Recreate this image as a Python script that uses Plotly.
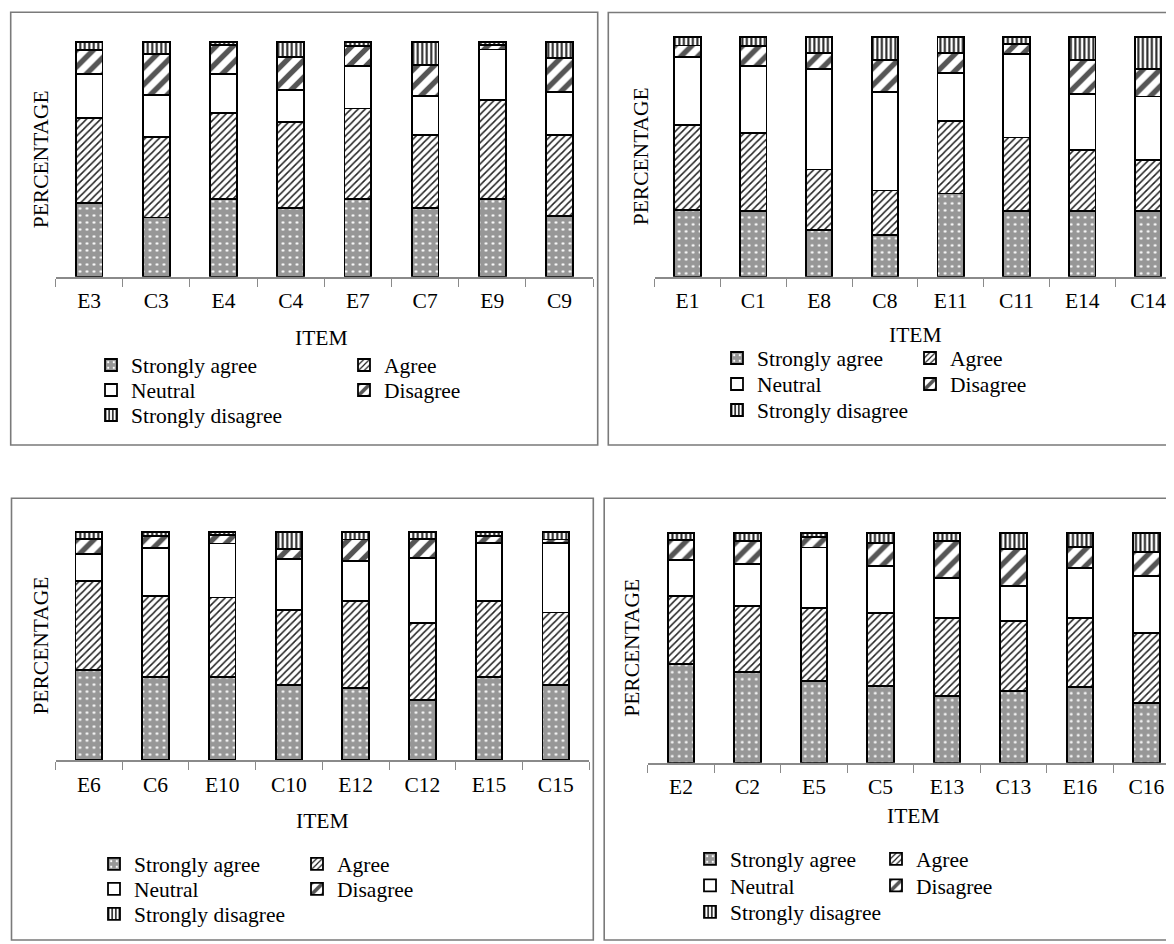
import plotly.graph_objects as go

W, H = 1174, 944
OFF = 8  # default page body margin of the written html

series_names = ["Strongly agree", "Agree", "Neutral", "Disagree", "Strongly disagree"]

# Panel 1 (top-left)
p1_items = ["E3", "C3", "E4", "C4", "E7", "C7", "E9", "C9"]
p1_strongly_agree = [31.2, 25.2, 33.0, 29.4, 33.0, 29.1, 33.0, 25.8]
p1_agree = [36.2, 34.3, 36.5, 36.6, 38.6, 31.2, 42.1, 34.5]
p1_neutral = [18.9, 17.7, 16.7, 13.5, 18.2, 16.6, 21.6, 18.2]
p1_disagree = [10.2, 17.7, 12.3, 13.9, 8.4, 13.2, 1.8, 14.5]
p1_strongly_disagree = [3.5, 5.1, 1.5, 6.6, 1.8, 9.9, 1.5, 7.0]

# Panel 2 (top-right)
p2_items = ["E1", "C1", "E8", "C8", "E11", "C11", "E14", "C14"]
p2_strongly_agree = [27.8, 27.4, 19.4, 17.4, 34.7, 27.4, 27.5, 27.4]
p2_agree = [35.4, 32.6, 25.3, 18.5, 30.1, 30.6, 25.3, 21.3]
p2_neutral = [28.2, 27.9, 41.8, 41.0, 20.1, 34.9, 23.2, 26.4]
p2_disagree = [4.9, 8.2, 6.8, 13.5, 8.3, 4.0, 14.3, 11.5]
p2_strongly_disagree = [3.7, 3.9, 6.7, 9.6, 6.8, 3.1, 9.7, 13.4]

# Panel 3 (bottom-left)
p3_items = ["E6", "C6", "E10", "C10", "E12", "C12", "E15", "C15"]
p3_strongly_agree = [39.4, 36.5, 36.2, 32.8, 31.4, 26.3, 36.2, 32.8]
p3_agree = [39.0, 35.3, 35.0, 32.8, 38.4, 33.6, 33.6, 31.8]
p3_neutral = [11.7, 21.2, 23.6, 22.6, 17.4, 28.5, 25.4, 30.5]
p3_disagree = [6.6, 5.1, 3.7, 4.1, 9.4, 8.3, 3.0, 1.5]
p3_strongly_disagree = [3.3, 1.9, 1.5, 7.7, 3.4, 3.3, 1.8, 3.4]

# Panel 4 (bottom-right)
p4_items = ["E2", "C2", "E5", "C5", "E13", "C13", "E16", "C16"]
p4_strongly_agree = [42.9, 39.7, 35.6, 33.6, 29.2, 31.4, 33.1, 25.9]
p4_agree = [29.8, 28.6, 32.0, 31.5, 34.0, 30.4, 30.1, 30.5]
p4_neutral = [15.7, 18.3, 26.2, 20.6, 17.4, 15.3, 21.8, 25.1]
p4_disagree = [8.7, 10.0, 4.5, 10.2, 16.0, 16.0, 9.2, 10.2]
p4_strongly_disagree = [2.9, 3.4, 1.7, 4.1, 3.4, 6.9, 5.8, 8.3]

panels_data = [
    (p1_items, [p1_strongly_agree, p1_agree, p1_neutral, p1_disagree, p1_strongly_disagree]),
    (p2_items, [p2_strongly_agree, p2_agree, p2_neutral, p2_disagree, p2_strongly_disagree]),
    (p3_items, [p3_strongly_agree, p3_agree, p3_neutral, p3_disagree, p3_strongly_disagree]),
    (p4_items, [p4_strongly_agree, p4_agree, p4_neutral, p4_disagree, p4_strongly_disagree]),
]

FONT = "Liberation Serif, Times New Roman, serif"
FS = 21.5

# layout geometry in page pixels
geo = [
    dict(x0=55.5, cw=67.2, base=276.7, top=41.7,
         box=(10.7, 12.3, 597.7, 445), right=True,
         ytitle=(40.8, 159.5), xtitle=(321, 337.5),
         leg_x=91, leg_w=208, leg_rows=(365, 390, 415)),
    dict(x0=654.6, cw=65.8, base=276.7, top=36.7,
         box=(608.3, 12.5, 1200, 445), right=False,
         ytitle=(640.8, 156.5), xtitle=(915, 335.5),
         leg_x=717, leg_w=148, leg_rows=(358, 384, 410)),
    dict(x0=55.5, cw=66.7, base=760.0, top=531.7,
         box=(11.5, 498.3, 593.3, 940), right=True,
         ytitle=(40.8, 645.8), xtitle=(322, 820.5),
         leg_x=94, leg_w=158, leg_rows=(864, 889, 914)),
    dict(x0=647.7, cw=66.5, base=762.7, top=533.3,
         box=(604.2, 498.3, 1200, 940), right=False,
         ytitle=(631.3, 647.5), xtitle=(913, 815.5),
         leg_x=690, leg_w=141, leg_rows=(859, 885.5, 912)),
]

styles = [
    dict(color="#9e9e9e", line=dict(color="black", width=1.8),
         pattern=dict(shape=".", bgcolor="#979797", fgcolor="white", size=7, solidity=0.12, fillmode="replace")),
    dict(color="white", line=dict(color="black", width=1.8),
         pattern=dict(shape="/", bgcolor="white", fgcolor="#222222", size=5, solidity=0.3, fillmode="replace")),
    dict(color="white", line=dict(color="black", width=1.8)),
    dict(color="white", line=dict(color="black", width=1.8),
         pattern=dict(shape="/", bgcolor="white", fgcolor="#555555", size=12, solidity=0.45, fillmode="replace")),
    dict(color="white", line=dict(color="black", width=1.8),
         pattern=dict(shape="|", bgcolor="white", fgcolor="#222222", size=4.5, solidity=0.45, fillmode="replace")),
]
row_of_series = [0, 0, 1, 1, 2]

VIEW_W = W


def fx(x):
    return (x - OFF) / W


def fy(y):
    return 1 - (y - OFF) / H


fig = go.Figure()
layout = dict(
    width=W, height=H, margin=dict(l=0, r=0, t=0, b=0),
    paper_bgcolor="white", plot_bgcolor="white",
    barmode="stack", bargap=0.6,
    font=dict(family=FONT, size=FS, color="black"),
    showlegend=True,
)
shapes = []
annotations = []

YMAX = 102.0

for k, ((items, vals), g) in enumerate(zip(panels_data, geo), start=1):
    xa = "x" if k == 1 else f"x{k}"
    ya = "y" if k == 1 else f"y{k}"
    for si, (name, v) in enumerate(zip(series_names, vals)):
        leg_n = (k - 1) * 3 + row_of_series[si] + 1
        leg_id = "legend" if leg_n == 1 else f"legend{leg_n}"
        fig.add_trace(go.Bar(
            x=items, y=v, name=name, xaxis=xa, yaxis=ya,
            legend=leg_id, marker=styles[si], showlegend=True,
            hoverinfo="x+y+name",
        ))
    if g["right"]:
        x1 = g["x0"] + 8 * g["cw"]
        rng_end = 7.5
    else:
        x1 = VIEW_W
        rng_end = -0.5 + (VIEW_W - g["x0"]) / g["cw"]
    px_per_unit = (g["base"] - g["top"]) / 100.0
    ytop_px = g["base"] - YMAX * px_per_unit
    layout[f"xaxis{'' if k == 1 else k}"] = dict(
        domain=[fx(g["x0"]), fx(x1)], range=[-0.5, rng_end], anchor=ya,
        type="category", showgrid=False, zeroline=False,
        showline=True, linecolor="#8a8a8a", linewidth=1.6,
        ticks="outside", tickson="boundaries", ticklen=8, tickwidth=1.4, tickcolor="#8a8a8a",
        ticklabelstandoff=4,
        tickfont=dict(family=FONT, size=FS, color="black"), fixedrange=True,
    )
    layout[f"yaxis{'' if k == 1 else k}"] = dict(
        domain=[fy(g["base"]), fy(ytop_px)], range=[0, YMAX], anchor=xa,
        showgrid=False, zeroline=False, showline=False, showticklabels=False,
        ticks="", fixedrange=True,
    )
    bx0, by0, bx1, by1 = g["box"]
    shapes.append(dict(type="rect", xref="paper", yref="paper",
                       x0=fx(bx0), x1=fx(bx1), y0=fy(by1), y1=fy(by0),
                       line=dict(color="#7a7a7a", width=1.6), fillcolor="rgba(0,0,0,0)", layer="below"))
    annotations.append(dict(text="PERCENTAGE", xref="paper", yref="paper",
                            x=fx(g["ytitle"][0]), y=fy(g["ytitle"][1]), textangle=-90,
                            showarrow=False, xanchor="center", yanchor="middle",
                            font=dict(family=FONT, size=FS, color="black")))
    annotations.append(dict(text="ITEM", xref="paper", yref="paper",
                            x=fx(g["xtitle"][0]), y=fy(g["xtitle"][1]),
                            showarrow=False, xanchor="center", yanchor="middle",
                            font=dict(family=FONT, size=FS, color="black")))
    for r in range(3):
        leg_n = (k - 1) * 3 + r + 1
        key = "legend" if leg_n == 1 else f"legend{leg_n}"
        layout[key] = dict(
            orientation="h", x=fx(g["leg_x"]), y=fy(g["leg_rows"][r]),
            xanchor="left", yanchor="middle",
            entrywidth=(g["leg_w"] if r < 2 else 230), entrywidthmode="pixels",
            font=dict(family=FONT, size=FS, color="black"),
            bgcolor="rgba(0,0,0,0)", borderwidth=0, traceorder="normal",
            itemclick=False, itemdoubleclick=False,
        )

layout["shapes"] = shapes
layout["annotations"] = annotations
fig.update_layout(**layout)

fig.write_html("out.html")
